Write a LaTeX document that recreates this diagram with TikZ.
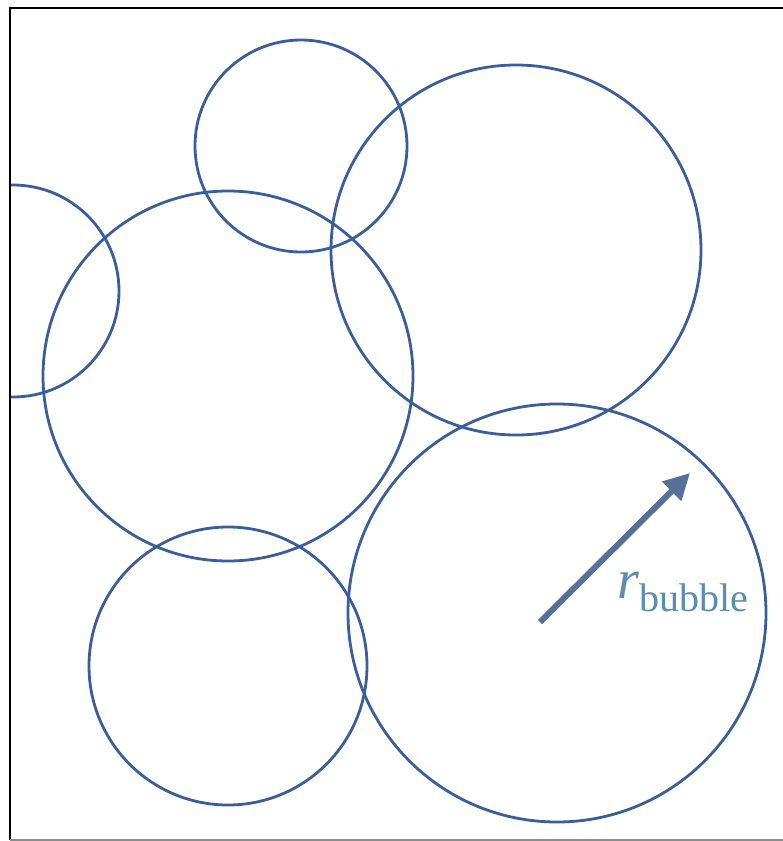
\documentclass[tikz,border=0pt]{standalone}
\usepackage{fontspec}
\setmainfont{Liberation Serif}
\usepackage{xcolor}
\usepackage{tikz}
\usetikzlibrary{arrows.meta}
\definecolor{rimblue}{HTML}{3B5D9C}
\definecolor{arrowslate}{HTML}{57709A}
\definecolor{labelblue}{HTML}{5B8DB0}
\tikzset{
  bubble/.style = {draw=rimblue, line width=2.8pt},
  frame/.style  = {draw=black, line width=2.6pt},
  radius arrow/.style = {-{Triangle[length=26pt, width=26pt]}, line width=6pt, draw=arrowslate, fill=arrowslate},
  rlabel/.style = {text=labelblue, inner sep=0pt, anchor=base west},
}

\begin{document}
\begin{tikzpicture}[x=1pt, y=-1pt]
  \useasboundingbox (0,0) rectangle (783,841);
  \begin{scope}
    \clip (10,8) rectangle (790,840);
    % bubbles: centre x / centre y / radius
    \foreach \cx/\cy/\rr in {301/146/106, 516/250/185, 13/291/106,
                             228/376/185, 228/666/139, 557/613/209} {
      \draw[bubble] (\cx,\cy) circle[radius=\rr];
    }
  \end{scope}
  \draw[frame] (790,8) -- (10,8) -- (10,840);
  \draw[draw=black!45, line width=1.5pt] (10,840) -- (790,840);

  \coordinate (centre) at (540,622);
  \coordinate (rim) at (690,473);
  \draw[radius arrow] (centre) -- (rim);
  \node[rlabel] (rlab) at (617,598)
    {\fontsize{56}{60}\selectfont\textit{r}\raisebox{-13pt}{\fontsize{40}{44}\selectfont bubble}};
\end{tikzpicture}
\end{document}
